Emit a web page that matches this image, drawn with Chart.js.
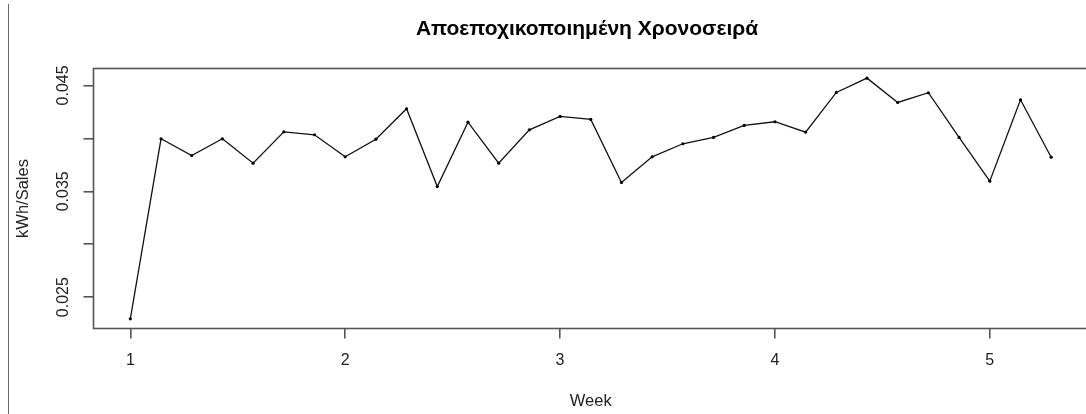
<!DOCTYPE html>
<html>
<head>
<meta charset="utf-8">
<script src="https://cdn.jsdelivr.net/npm/chart.js@4"></script>
<style>
html, body { margin: 0; padding: 0; background: #fff; overflow: hidden; width: 1086px; height: 414px; }
#wrap { position: relative; width: 1092px; height: 414px; }
#leftLine { position: absolute; left: 8px; top: 4px; width: 1px; height: 410px; background: #6a6a6a; z-index: 2; }
</style>
</head>
<body>
<div id="wrap">
  <div id="leftLine"></div>
  <canvas id="c" width="1092" height="414"></canvas>
</div>
<script>
const chartTitle = "Αποεποχικοποιημένη Χρονοσειρά";
const xTitle = "Week";
const yTitle = "kWh/Sales";

const weeks = [1, 1.1429, 1.2857, 1.4286, 1.5714, 1.7143, 1.8571, 2, 2.1429, 2.2857,
  2.4286, 2.5714, 2.7143, 2.8571, 3, 3.1429, 3.2857, 3.4286, 3.5714, 3.7143,
  3.8571, 4, 4.1429, 4.2857, 4.4286, 4.5714, 4.7143, 4.8571, 5, 5.1429, 5.2857];

const kwhPerSales = [0.02295, 0.03996, 0.03838, 0.03996, 0.03766, 0.04062, 0.04034, 0.03826, 0.03992, 0.04280,
  0.03545, 0.04153, 0.03766, 0.04081, 0.04207, 0.04179, 0.03583, 0.03826, 0.03949, 0.04009,
  0.04122, 0.04157, 0.04059, 0.04434, 0.04569, 0.04339, 0.04431, 0.04009, 0.03596, 0.04365, 0.03822];

const xTicks = [1, 2, 3, 4, 5];
const yTicks = [0.025, 0.030, 0.035, 0.040, 0.045];
const yTickLabels = ["0.025", "", "0.035", "", "0.045"];

const FONT = "'Liberation Sans', Arial, sans-serif";

const decor = {
  id: 'decor',
  afterDraw(chart) {
    const ctx = chart.ctx;
    const a = chart.chartArea;
    ctx.save();
    // plot box
    ctx.strokeStyle = '#555';
    ctx.lineWidth = 1.6;
    ctx.strokeRect(a.left, a.top, a.right - a.left, a.bottom - a.top);
    // y tick labels (rotated, R style)
    const ys = chart.scales.y;
    ctx.fillStyle = '#222';
    ctx.font = "16px " + FONT;
    ctx.textAlign = 'center';
    ctx.textBaseline = 'middle';
    yTicks.forEach((v, i) => {
      if (!yTickLabels[i]) return;
      const py = ys.getPixelForValue(v);
      ctx.save();
      ctx.translate(64, py);
      ctx.rotate(-Math.PI / 2);
      ctx.fillText(yTickLabels[i], 0, 0);
      ctx.restore();
    });
    // y axis title
    ctx.font = "16.5px " + FONT;
    ctx.save();
    ctx.translate(23, (a.top + a.bottom) / 2);
    ctx.rotate(-Math.PI / 2);
    ctx.fillText(yTitle, 0, 0);
    ctx.restore();
    // x axis title
    ctx.fillText(xTitle, (a.left + a.right) / 2, 401);
    // main title
    ctx.fillStyle = '#000';
    ctx.font = "bold 21px " + FONT;
    ctx.fillText(chartTitle, 587, 29);
    ctx.restore();
  }
};

new Chart(document.getElementById('c'), {
  type: 'line',
  data: {
    datasets: [{
      data: weeks.map((w, i) => ({ x: w, y: kwhPerSales[i] })),
      borderColor: '#111',
      borderWidth: 1.3,
      pointRadius: 1.6,
      pointBackgroundColor: '#000',
      pointBorderWidth: 0,
      tension: 0,
      fill: false
    }]
  },
  options: {
    responsive: false,
    animation: false,
    events: [],
    layout: { padding: { top: 68.5, left: 0, right: 1, bottom: 0 } },
    plugins: { legend: { display: false }, title: { display: false }, tooltip: { enabled: false } },
    scales: {
      x: {
        type: 'linear',
        min: 0.8286,
        max: 5.4571,
        afterFit: s => { s.height = 85.5; },
        afterBuildTicks: s => { s.ticks = xTicks.map(v => ({ value: v })); },
        grid: { display: true, drawOnChartArea: false, drawTicks: true, tickLength: 10, color: '#555', lineWidth: 1.6 },
        border: { display: false },
        ticks: { color: '#222', font: { family: FONT, size: 16 }, padding: 12, maxRotation: 0, callback: v => String(v) }
      },
      y: {
        type: 'linear',
        min: 0.02204,
        max: 0.0466,
        afterFit: s => { s.width = 93.5; },
        afterBuildTicks: s => { s.ticks = yTicks.map(v => ({ value: v })); },
        grid: { display: true, drawOnChartArea: false, drawTicks: true, tickLength: 10, color: '#555', lineWidth: 1.6 },
        border: { display: false },
        ticks: { display: false }
      }
    }
  },
  plugins: [decor]
});
</script>
</body>
</html>
